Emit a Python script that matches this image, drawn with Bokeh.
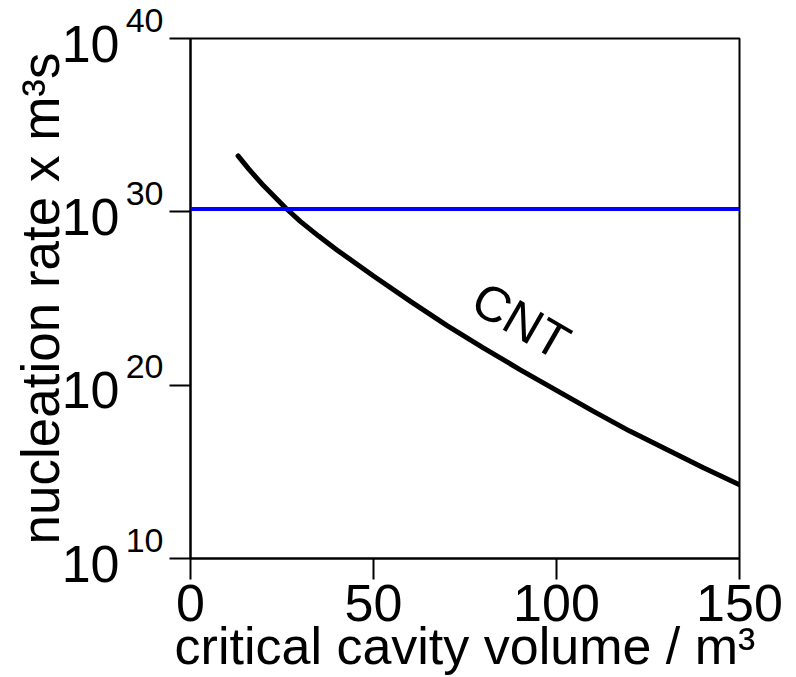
from bokeh.plotting import figure
from bokeh.models import FixedTicker, Span, Label, LogAxis
from bokeh.embed import file_html
from bokeh.resources import INLINE

# CNT nucleation rate versus critical cavity volume
volume = [13, 16, 20, 26, 30, 35, 40, 50, 60, 70, 80, 90, 100, 110, 120, 130, 140, 150]
cnt_rate = [1.70e33, 2.82e32, 3.16e31, 1.66e30, 2.82e29, 3.98e28, 6.31e27, 2.00e26,
            7.08e24, 2.82e23, 1.41e22, 7.94e20, 5.01e19, 3.16e18, 2.24e17, 2.00e16,
            1.78e15, 1.82e14]

# horizontal reference rate (blue line)
reference_rate = 1.45e30

x_ticks = [0, 50, 100, 150]
y_ticks = [1e10, 1e20, 1e30, 1e40]
y_tick_exponents = ["10", "20", "30", "40"]

FONT = "Liberation Sans"

p = figure(width=796, height=677, x_range=(0, 150), y_range=(1e10, 1e40),
           y_axis_type="log", output_backend="svg", toolbar_location=None,
           min_border_left=190, min_border_right=57, min_border_top=38,
           min_border_bottom=119)

p.background_fill_color = "white"
p.border_fill_color = "white"
p.grid.visible = False
p.outline_line_color = "black"
p.outline_line_width = 2

for ax in (p.xaxis[0], p.yaxis[0]):
    ax.axis_line_width = 2
    ax.axis_line_color = "black"
    ax.major_tick_line_width = 2
    ax.major_tick_line_color = "black"
    ax.major_tick_in = 0
    ax.major_tick_out = 21
    ax.minor_tick_line_color = None

# x axis
p.xaxis.ticker = FixedTicker(ticks=x_ticks)
p.xaxis.major_label_text_font = FONT
p.xaxis.major_label_text_font_size = "52px"
p.xaxis.major_label_text_color = "black"
p.xaxis.major_label_standoff = 5
p.xaxis.axis_label = "critical cavity volume / m³"
p.xaxis.axis_label_text_font = FONT
p.xaxis.axis_label_text_font_size = "52px"
p.xaxis.axis_label_text_font_style = "normal"
p.xaxis.axis_label_text_color = "black"
p.xaxis.axis_label_standoff = -7

# y axis: ticks plus the raised exponents of the power-of-ten labels
yax = p.yaxis[0]
yax.ticker = FixedTicker(ticks=y_ticks)
yax.major_label_overrides = {t: ex + "\n" for t, ex in zip(y_ticks, y_tick_exponents)}
yax.major_label_text_font = FONT
yax.major_label_text_font_size = "34px"
yax.major_label_text_line_height = 1.0
yax.major_label_text_color = "black"
yax.major_label_standoff = 6

# second left axis carrying the "10" mantissas and the axis title
mant = LogAxis(ticker=FixedTicker(ticks=y_ticks),
               major_label_overrides={t: "\n10" for t in y_ticks},
               axis_line_color=None, major_tick_line_color=None,
               minor_tick_line_color=None, major_tick_in=0, major_tick_out=0,
               major_label_standoff=3,
               major_label_text_font=FONT, major_label_text_font_size="52px",
               major_label_text_line_height=0.18, major_label_text_color="black",
               axis_label="nucleation rate x m³s", axis_label_text_font=FONT,
               axis_label_text_font_size="53px", axis_label_text_font_style="normal",
               axis_label_text_color="black", axis_label_standoff=-11)
p.add_layout(mant, "left")

p.add_layout(Span(location=reference_rate, dimension="width",
                  line_color="#0000ff", line_width=4))

p.line(volume, cnt_rate, line_color="black", line_width=5, line_cap="round")

p.add_layout(Label(x=90.3, y=5.2e23, text="CNT", angle=-30, angle_units="deg",
                   text_align="center", text_baseline="middle",
                   text_font=FONT, text_font_size="50px", text_color="black"))

open("out.html", "w").write(file_html(p, INLINE))
